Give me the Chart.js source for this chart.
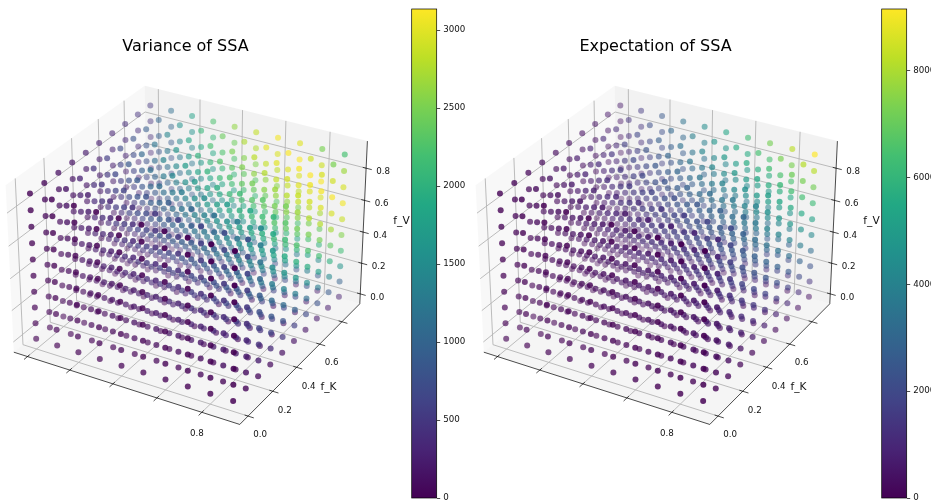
<!DOCTYPE html>
<html><head><meta charset="utf-8">
<style>
html,body{margin:0;padding:0;background:#fff;overflow:hidden;width:931px;height:502px}
#wrap{position:relative;width:931px;height:502px;overflow:hidden}
canvas{position:absolute;top:0}
</style>
<script src="https://cdn.jsdelivr.net/npm/chart.js@4/dist/chart.umd.min.js"></script>
</head><body><div id="wrap">
<canvas id="s1" width="451" height="502" style="left:-40px"></canvas>
<canvas id="c1" width="70" height="502" style="left:405px"></canvas>
<canvas id="s2" width="451" height="502" style="left:430px"></canvas>
<canvas id="c2" width="56" height="502" style="left:875px"></canvas>
</div>
<script>
// Grid of the scatter
const fX=[0,0.1,0.2,0.3,0.4,0.5,0.6,0.7,0.8,0.9];
const fK=[0,0.1,0.2,0.3,0.4,0.5,0.6,0.7,0.8,0.9];
const fV=[0,0.1,0.2,0.3,0.4,0.5,0.6,0.7,0.8,0.9];
const xTicks=[0,0.2,0.4,0.6,0.8], xTickLabels=['','','','','0.8'];
const yTicks=[0,0.2,0.4,0.6,0.8], yTickLabels=['0.0','0.2','0.4','0.6',''];
const zTicks=[0,0.2,0.4,0.6,0.8], zTickLabels=['0.0','0.2','0.4','0.6','0.8'];
const varianceTicks=[0,500,1000,1500,2000,2500,3000], varianceMax=3135;
const expectationTicks=[0,2000,4000,6000,8000], expectationMax=9160;
// Colour values: estimates. Visible faces were judged from dot colours against the colour bars;
// occluded interior cells were estimated by hand from the trends on those faces, not individually read.
// Each table: one row per f_K, one column per f_X, for a given f_V layer.
const varianceZ0=[[0,0,0,0,0,0,0,0,0,0],[0,10,10,10,20,20,20,30,30,30],[0,10,20,20,30,30,40,40,50,60],[10,20,30,30,40,50,60,70,80,90],[10,20,30,40,50,70,80,90,100,110],[10,30,30,50,70,90,90,110,130,140],[10,30,40,60,80,90,120,140,150,170],[10,30,50,80,90,110,140,150,180,200],[20,30,60,90,110,130,150,180,210,220],[20,40,70,90,120,150,170,200,220,260]];
const varianceZ1=[[0,0,0,0,0,0,0,0,0,0],[10,20,30,40,60,70,90,90,110,120],[20,40,70,90,120,150,170,200,220,240],[30,60,100,140,170,220,250,290,330,370],[30,80,130,180,230,280,340,390,440,480],[30,100,160,230,290,360,420,470,530,580],[40,120,200,280,350,430,490,560,620,680],[50,150,230,320,410,490,560,630,700,780],[60,160,270,370,470,550,630,710,790,870],[70,180,300,410,510,610,700,790,880,970]];
const varianceZ2=[[0,0,0,0,0,0,0,0,0,0],[20,30,60,80,100,130,150,170,200,220],[30,70,120,160,210,250,300,340,390,430],[40,110,170,240,310,380,440,490,550,610],[50,150,230,330,410,490,560,640,710,790],[70,180,290,400,500,590,690,780,870,950],[80,220,350,480,590,700,810,910,1010,1120],[90,250,410,540,670,800,920,1050,1170,1290],[110,290,470,610,750,890,1030,1170,1320,1460],[120,330,510,680,840,990,1140,1290,1470,1610]];
const varianceZ3=[[0,0,0,0,0,0,0,0,0,0],[20,50,90,120,150,180,220,250,280,310],[40,100,170,230,300,360,430,480,540,590],[60,150,250,350,440,520,600,680,760,830],[80,210,340,460,570,670,770,870,980,1080],[90,260,420,560,690,820,940,1070,1190,1320],[120,310,490,650,810,950,1110,1260,1410,1550],[140,360,560,750,920,1090,1280,1450,1610,1770],[150,410,630,840,1030,1230,1440,1620,1800,1980],[170,460,700,930,1150,1380,1590,1790,1990,2150]];
const varianceZ4=[[0,0,0,0,0,0,0,0,0,0],[30,70,110,150,200,230,280,320,360,400],[50,140,220,300,390,470,540,610,670,740],[80,210,330,450,560,660,760,860,950,1050],[100,270,440,590,710,850,980,1110,1240,1370],[130,340,530,700,870,1030,1190,1350,1520,1660],[150,400,620,820,1010,1220,1410,1590,1770,1940],[180,470,700,950,1170,1400,1610,1820,2030,2170],[210,530,790,1060,1320,1570,1800,2040,2200,2350],[220,600,880,1180,1470,1730,1990,2190,2370,2550]];
const varianceZ5=[[0,0,0,0,0,0,0,0,0,0],[30,90,140,190,240,290,340,400,440,490],[60,160,270,380,470,560,640,720,810,890],[90,250,400,540,660,790,910,1030,1160,1280],[130,340,520,690,860,1020,1180,1340,1500,1640],[150,410,630,840,1040,1240,1440,1630,1810,1990],[190,490,740,990,1230,1470,1680,1910,2100,2240],[220,560,850,1130,1420,1670,1910,2130,2310,2470],[250,620,950,1280,1580,1880,2130,2320,2510,2710],[280,700,1050,1430,1750,2070,2290,2500,2720,2890]];
const varianceZ6=[[0,0,0,0,0,0,0,0,0,0],[30,90,160,220,280,340,400,460,510,560],[80,200,320,440,540,640,750,840,940,1040],[110,290,480,630,770,920,1060,1210,1350,1490],[150,400,610,800,990,1190,1380,1560,1730,1910],[190,480,740,980,1220,1460,1670,1890,2090,2230],[220,570,860,1150,1420,1700,1950,2160,2330,2500],[260,640,990,1320,1640,1940,2180,2380,2580,2780],[290,720,1110,1490,1830,2140,2370,2600,2830,2950],[340,800,1240,1650,2030,2300,2560,2810,2960,3080]];
const varianceZ7=[[0,0,0,0,0,0,0,0,0,0],[40,110,190,260,330,400,460,520,580,640],[90,230,370,500,620,730,850,950,1060,1180],[130,340,540,710,880,1050,1220,1390,1540,1690],[170,450,690,920,1140,1360,1580,1770,1970,2130],[220,550,830,1110,1390,1670,1900,2110,2280,2450],[260,640,990,1320,1630,1870,2170,2370,2570,2770],[300,750,1120,1510,1860,2150,2390,2620,2850,2970],[340,830,1270,1690,2070,2340,2610,2860,2990,3110],[390,920,1420,1870,2230,2530,2830,2980,3120,2940]];
const varianceZ8=[[0,0,0,0,0,0,0,0,0,0],[50,130,220,290,380,450,510,580,640,710],[90,260,420,560,690,820,950,1070,1200,1330],[150,390,610,790,990,1180,1360,1550,1710,1890],[200,510,770,1020,1280,1530,1750,1980,2150,2300],[240,610,940,1250,1560,1840,2100,2290,2480,2670],[290,720,1100,1470,1820,2120,2350,2570,2800,2930],[340,820,1260,1700,2070,2330,2600,2860,3010,3100],[390,930,1430,1880,2240,2550,2850,2990,3130,2920],[430,1020,1580,2080,2420,2760,2970,3120,2900,2670]];
const varianceZ9=[[0,0,0,0,0,0,0,0,0,0],[50,150,240,330,420,490,570,650,720,790],[110,290,470,610,770,910,1050,1190,1330,1470],[160,440,660,880,1090,1300,1510,1700,1890,2070],[220,560,850,1140,1420,1670,1930,2140,2310,2480],[280,680,1030,1390,1710,2030,2250,2460,2670,2870],[330,790,1220,1620,2010,2270,2530,2780,2940,3060],[390,910,1400,1850,2210,2510,2810,3000,3110,2960],[440,1020,1580,2070,2410,2750,3010,3120,2910,2500],[480,1130,1770,2230,2610,2850,3090,3000,2500,2200]];
const expectationZ0=[[0,0,0,0,0,0,0,0,0,0],[0,10,10,10,20,20,20,30,30,30],[0,10,20,20,30,40,50,50,60,70],[10,20,30,40,50,60,70,80,90,100],[10,20,40,50,60,80,90,100,120,130],[10,30,40,60,80,100,110,130,150,160],[10,30,50,70,90,110,140,160,180,200],[10,40,60,90,110,130,160,180,210,230],[20,40,70,100,130,150,180,210,240,260],[20,50,80,110,140,170,200,230,260,300]];
const expectationZ1=[[0,0,0,0,0,0,0,0,0,0],[10,20,40,50,70,80,100,110,130,140],[20,50,80,110,140,170,200,230,260,280],[30,70,120,160,200,250,290,340,380,430],[40,90,150,210,270,330,390,450,510,570],[40,120,190,270,340,420,490,560,640,710],[50,140,230,320,410,500,590,680,770,850],[60,170,270,370,480,580,680,790,890,1000],[70,190,310,430,550,660,780,900,1020,1140],[80,210,350,480,610,750,880,1010,1150,1280]];
const expectationZ2=[[0,0,0,0,0,0,0,0,0,0],[20,40,70,90,120,150,170,200,230,250],[30,80,140,190,240,290,350,400,450,500],[50,130,200,280,360,440,520,600,680,760],[60,170,270,380,480,590,690,800,900,1010],[80,210,340,470,600,730,870,1000,1130,1260],[90,250,410,570,720,880,1040,1200,1350,1510],[110,290,480,660,840,1030,1210,1400,1580,1760],[130,340,550,760,960,1170,1380,1590,1800,2010],[140,380,610,850,1090,1320,1560,1790,2030,2270]];
const expectationZ3=[[0,0,0,0,0,0,0,0,0,0],[20,60,100,140,170,210,250,290,320,360],[50,120,200,270,350,420,500,570,650,720],[70,180,290,410,520,630,740,860,970,1080],[90,240,390,540,690,840,990,1140,1290,1440],[110,300,490,680,870,1050,1240,1430,1620,1810],[140,360,590,810,1040,1260,1490,1720,1940,2170],[160,420,680,950,1210,1470,1740,2000,2260,2530],[180,480,780,1080,1380,1690,1990,2290,2590,2890],[200,540,880,1220,1560,1900,2230,2570,2910,3250]];
const expectationZ4=[[0,0,0,0,0,0,0,0,0,0],[30,80,130,180,230,270,320,370,420,470],[60,160,260,350,450,550,650,750,840,940],[90,240,380,530,680,820,970,1120,1260,1410],[120,310,510,710,900,1100,1290,1490,1690,1880],[150,390,640,880,1130,1370,1620,1860,2110,2350],[180,470,770,1060,1350,1650,1940,2240,2530,2820],[210,550,890,1240,1580,1920,2260,2610,2950,3290],[240,630,1020,1410,1800,2200,2590,2980,3370,3760],[260,710,1150,1590,2030,2470,2910,3350,3790,4240]];
const expectationZ5=[[0,0,0,0,0,0,0,0,0,0],[40,100,160,220,280,340,400,460,520,580],[70,190,310,440,560,680,800,920,1040,1160],[110,290,470,650,830,1020,1200,1380,1560,1740],[150,390,630,870,1110,1350,1600,1840,2080,2320],[180,480,790,1090,1390,1690,1990,2300,2600,2900],[220,580,940,1310,1670,2030,2390,2760,3120,3480],[250,680,1100,1520,1950,2370,2790,3210,3640,4060],[290,770,1260,1740,2220,2710,3190,3670,4160,4640],[330,870,1410,1960,2500,3050,3590,4130,4680,5220]];
const expectationZ6=[[0,0,0,0,0,0,0,0,0,0],[40,110,190,260,330,400,470,550,620,690],[90,230,370,520,660,800,950,1090,1240,1380],[130,340,560,780,990,1210,1420,1640,1850,2070],[170,460,750,1030,1320,1610,1900,2180,2470,2760],[220,570,930,1290,1650,2010,2370,2730,3090,3450],[260,690,1120,1550,1980,2410,2840,3270,3710,4140],[300,800,1310,1810,2310,2820,3320,3820,4320,4830],[340,920,1490,2070,2640,3220,3790,4370,4940,5520],[390,1030,1680,2330,2970,3620,4270,4910,5560,6210]];
const expectationZ7=[[0,0,0,0,0,0,0,0,0,0],[50,130,220,300,380,470,550,630,720,800],[100,270,430,600,770,930,1100,1260,1430,1600],[150,400,650,900,1150,1400,1650,1900,2150,2400],[200,530,870,1200,1530,1860,2200,2530,2860,3200],[250,670,1080,1500,1910,2330,2750,3160,3580,3990],[300,800,1300,1800,2300,2800,3300,3800,4290,4790],[350,930,1510,2100,2680,3260,3850,4430,5010,5590],[400,1070,1730,2400,3060,3730,4390,5060,5730,6390],[450,1200,1950,2700,3450,4190,4940,5690,6440,7190]];
const expectationZ8=[[0,0,0,0,0,0,0,0,0,0],[60,150,250,340,440,530,620,720,810,910],[110,300,490,680,870,1060,1250,1440,1630,1820],[170,450,740,1020,1310,1590,1870,2160,2440,2730],[230,610,980,1360,1740,2120,2500,2880,3250,3630],[280,760,1230,1700,2180,2650,3120,3600,4070,4540],[340,910,1480,2040,2610,3180,3750,4310,4880,5450],[400,1060,1720,2380,3050,3710,4370,5030,5700,6360],[450,1210,1970,2720,3480,4240,5000,5750,6510,7270],[510,1360,2210,3070,3920,4770,5620,6470,7320,8180]];
const expectationZ9=[[0,0,0,0,0,0,0,0,0,0],[60,170,280,380,490,590,700,810,910,1020],[130,340,550,760,980,1190,1400,1610,1820,2040],[190,510,830,1150,1460,1780,2100,2420,2740,3050],[250,680,1100,1530,1950,2370,2800,3220,3650,4070],[320,850,1380,1910,2440,2970,3500,4030,4560,5090],[380,1020,1650,2290,2930,3560,4200,4830,5470,6110],[450,1190,1930,2670,3410,4160,4900,5640,6380,7120],[510,1360,2210,3050,3900,4750,5600,6450,7290,8140],[570,1530,2480,3440,4390,5340,6300,7250,8210,9160]];
const varianceLayers=[varianceZ0,varianceZ1,varianceZ2,varianceZ3,varianceZ4,varianceZ5,varianceZ6,varianceZ7,varianceZ8,varianceZ9];
const expectationLayers=[expectationZ0,expectationZ1,expectationZ2,expectationZ3,expectationZ4,expectationZ5,expectationZ6,expectationZ7,expectationZ8,expectationZ9];

const FONT='"DejaVu Sans"';
const VIRIDIS=['#440154','#482475','#414487','#355f8d','#2a788e','#21918c','#22a884','#43bf71','#7ad151','#bddf26','#fde725'].map(h=>[1,3,5].map(i=>parseInt(h.substr(i,2),16)));
function viridis(t){t=Math.max(0,Math.min(1,t))*10;const i=Math.min(9,Math.floor(t)),f=t-i;return VIRIDIS[i].map((c,k)=>Math.round(c+(VIRIDIS[i+1][k]-c)*f));}

// View of the 3D box (elevation 30, azimuth -60, perspective distance 10)
const LO=-0.0656,HI=0.9656,BX=1.19,BZ=0.893,DIST=10;
const U=[0.866,0.5,0],V=[-0.25,0.433,0.866],W=[0.433,-0.75,0.5];
function project(x,y,z){
  const d=[BX*((x-LO)/(HI-LO)-.5),BX*((y-LO)/(HI-LO)-.5),BZ*((z-LO)/(HI-LO)-.5)];
  const dot=a=>a[0]*d[0]+a[1]*d[1]+a[2]*d[2];
  const w=dot(W),f=1/(DIST-w);
  return {x:dot(U)*f,y:dot(V)*f,w};
}
const SX=2175,SY=2130,OX=190,OY=247,CANVAS_SHIFT=40,TITLE_BLOCK=57;

function buildPoints(layers,max){
  const pts=[];
  fV.forEach((z,m)=>fK.forEach((y,j)=>fX.forEach((x,i)=>{
    const p=project(x,y,z);pts.push({x:p.x,y:p.y,w:p.w,value:layers[m][j][i]});
  })));
  pts.sort((a,b)=>a.w-b.w);
  const lo=pts[0].w,hi=pts[pts.length-1].w;
  const colors=pts.map(p=>{const c=viridis(p.value/max),a=1-0.7*(hi-p.w)/(hi-lo);return `rgba(${c[0]},${c[1]},${c[2]},${a.toFixed(3)})`;});
  return {pts,colors};
}

const box3d={id:'box3d',beforeDatasetsDraw(chart){
  const c=chart.ctx,sx=chart.scales.x,sy=chart.scales.y;
  const P=(x,y,z)=>{const p=project(x,y,z);return [sx.getPixelForValue(p.x),sy.getPixelForValue(p.y)];};
  const poly=(pts,fill)=>{c.beginPath();pts.forEach((q,i)=>i?c.lineTo(q[0],q[1]):c.moveTo(q[0],q[1]));if(fill){c.closePath();c.fillStyle=fill;c.fill();}else c.stroke();};
  c.save();
  poly([P(LO,LO,LO),P(LO,HI,LO),P(LO,HI,HI),P(LO,LO,HI)],'rgba(242,242,242,0.5)');
  poly([P(LO,HI,LO),P(HI,HI,LO),P(HI,HI,HI),P(LO,HI,HI)],'rgba(230,230,230,0.5)');
  poly([P(LO,LO,LO),P(HI,LO,LO),P(HI,HI,LO),P(LO,HI,LO)],'rgba(236,236,236,0.5)');
  c.strokeStyle='#b4b4b4';c.lineWidth=0.9;
  xTicks.forEach(t=>poly([P(t,LO,LO),P(t,HI,LO),P(t,HI,HI)]));
  yTicks.forEach(t=>poly([P(HI,t,LO),P(LO,t,LO),P(LO,t,HI)]));
  zTicks.forEach(t=>poly([P(HI,HI,t),P(LO,HI,t),P(LO,LO,t)]));
  c.strokeStyle='#000';c.lineWidth=0.7;
  poly([P(LO,LO,LO),P(HI,LO,LO),P(HI,HI,LO),P(HI,HI,HI)]);
  c.fillStyle='#111';c.textAlign='center';c.textBaseline='middle';c.font='8.7px '+FONT;
  xTicks.forEach((t,i)=>{poly([P(t,LO+.015,LO),P(t,LO-.025,LO)]);const q=P(t,LO,LO);if(xTickLabels[i])c.fillText(xTickLabels[i],q[0]-5,q[1]+21);});
  yTicks.forEach((t,i)=>{poly([P(HI-.015,t,LO),P(HI+.025,t,LO)]);const q=P(HI,t,LO);if(yTickLabels[i])c.fillText(yTickLabels[i],q[0]+12,q[1]+19);});
  zTicks.forEach((t,i)=>{poly([P(HI-.015,HI,t),P(HI+.025,HI,t)]);const q=P(HI,HI,t);if(zTickLabels[i])c.fillText(zTickLabels[i],q[0]+17,q[1]+3.5);});
  c.font='10.6px '+FONT;
  let q=P(HI,.45,LO);c.fillText('f_K',q[0]+26,q[1]+26);
  q=P(HI,HI,.45);c.fillText('f_V',q[0]+38,q[1]-3);
  c.restore();
}};

function scatter(id,title,layers,max){
  const {pts,colors}=buildPoints(layers,max);
  new Chart(document.getElementById(id),{type:'scatter',plugins:[box3d],
    data:{datasets:[{label:title,data:pts,clip:false,pointRadius:3,pointBorderWidth:0,pointBackgroundColor:colors,pointBorderColor:colors}]},
    options:{responsive:false,animation:false,events:[],
      layout:{padding:0,autoPadding:false},
      plugins:{legend:{display:false},tooltip:{enabled:false},
        title:{display:true,text:title,color:'#000',font:{family:FONT,size:16,weight:'normal',lineHeight:1.25},padding:{top:37,bottom:0}}},
      scales:{
        x:{type:'linear',display:false,min:(-CANVAS_SHIFT-OX)/SX,max:(451-CANVAS_SHIFT-OX)/SX},
        y:{type:'linear',display:false,min:(OY-502)/SY,max:(OY-TITLE_BLOCK)/SY}}}});
}

const outline={id:'outline',afterDatasetsDraw(chart){const a=chart.chartArea,c=chart.ctx;c.save();c.strokeStyle='#000';c.lineWidth=0.7;c.strokeRect(a.left,a.top,a.right-a.left,a.bottom-a.top);c.restore();}};
function colorbar(id,ticks,max,axisWidth){
  new Chart(document.getElementById(id),{type:'bar',plugins:[outline],
    data:{labels:[''],datasets:[{data:[[0,max]],barPercentage:1,categoryPercentage:1,borderWidth:0,
      backgroundColor(ctx){const a=ctx.chart.chartArea;if(!a)return '#000';const g=ctx.chart.ctx.createLinearGradient(0,a.bottom,0,a.top);VIRIDIS.forEach((v,i)=>g.addColorStop(i/10,`rgb(${v})`));return g;}}]},
    options:{responsive:false,animation:false,events:[],
      layout:{padding:{left:6.7,top:9,bottom:4,right:0},autoPadding:false},
      plugins:{legend:{display:false},tooltip:{enabled:false},title:{display:false}},
      scales:{
        x:{display:false},
        y:{position:'right',min:0,max:max,
          afterBuildTicks(s){s.ticks=ticks.map(v=>({value:v}));},
          afterFit(s){s.width=axisWidth;s.paddingTop=0;s.paddingBottom=0;},
          border:{display:false},
          grid:{drawOnChartArea:false,drawTicks:true,tickLength:3.5,color:'#000',lineWidth:0.7},
          ticks:{color:'#111',padding:3,font:{family:FONT,size:8.7},callback:v=>String(v),autoSkip:false,maxRotation:0}}}}});
}
scatter('s1','Variance of SSA',varianceLayers,varianceMax);
scatter('s2','Expectation of SSA',expectationLayers,expectationMax);
colorbar('c1',varianceTicks,varianceMax,38.3);
colorbar('c2',expectationTicks,expectationMax,24.3);
</script></body></html>
